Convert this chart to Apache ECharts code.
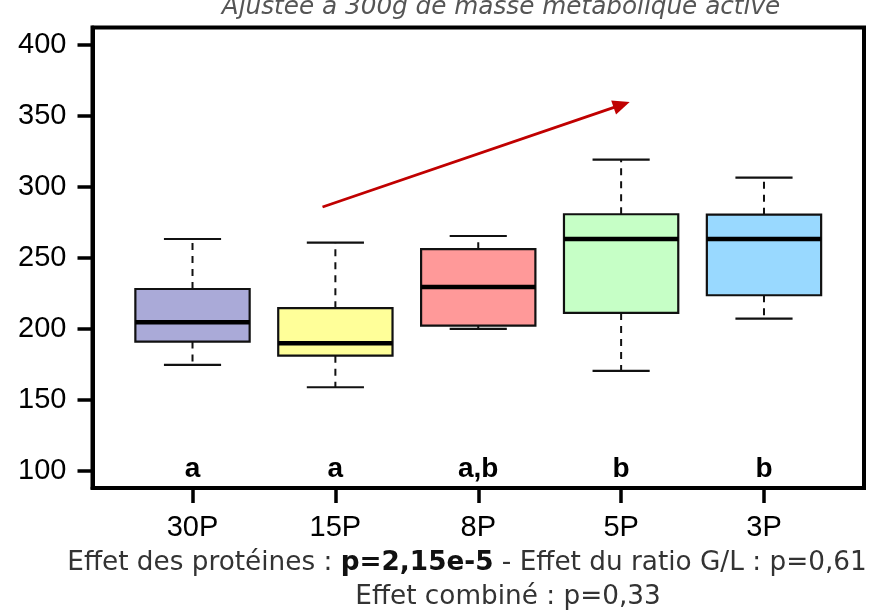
<!DOCTYPE html>
<html>
<head>
<meta charset="utf-8">
<script src="https://cdn.jsdelivr.net/npm/echarts@6/dist/echarts.min.js"></script>
<style>
html,body{margin:0;padding:0;background:#fff;}
#chart{width:871px;height:615px;}
</style>
</head>
<body>
<div id="chart"></div>
<script>
// ---- data ----
const categories = ['30P', '15P', '8P', '5P', '3P'];
const lowerWhisker = [174.6, 158.9, 199.9, 170.4, 207.2];
const q1 = [191.0, 181.1, 202.2, 211.2, 223.6];
const median = [204.7, 189.8, 229.5, 263.2, 263.2];
const q3 = [228.0, 214.5, 256.0, 280.6, 280.3];
const upperWhisker = [263.2, 260.6, 265.3, 319.0, 306.4];
const groupLetters = ['a', 'a', 'a,b', 'b', 'b'];
const yTicks = [100, 150, 200, 250, 300, 350, 400];
const trendArrow = [[1.91, 285.7], [4.06, 359.6]];
const titleText = 'Ajustée à 300g de masse métabolique active';
const footLine1 = ['Effet des protéines : ', 'p=2,15e-5', ' - Effet du ratio G/L : p=0,61'];
const footLine2 = 'Effet combiné : p=0,33';

// ---- styles ----
const boxColors = ['#AAAAD8', '#FFFF99', '#FF9999', '#C6FFC6', '#99D9FF'];
const LETTER_Y = 101;

const chart = echarts.init(document.getElementById('chart'), null, {renderer: 'canvas'});

const boxData = categories.map((c, i) => [i + 1, lowerWhisker[i], q1[i], median[i], q3[i], upperWhisker[i]]);

function renderBox(params, api) {
  const x = api.value(0);
  const pLow = api.coord([x, api.value(1)]);
  const pQ1 = api.coord([x, api.value(2)]);
  const pMed = api.coord([x, api.value(3)]);
  const pQ3 = api.coord([x, api.value(4)]);
  const pUp = api.coord([x, api.value(5)]);
  const halfW = api.size([0.8, 0])[0] / 2;
  const capHalf = api.size([0.4, 0])[0] / 2;
  const cx = pMed[0];
  const dashStyle = {stroke: '#111', lineWidth: 2, lineDash: [7, 6]};
  const capStyle = {stroke: '#111', lineWidth: 2.2};
  return {
    type: 'group',
    children: [
      {type: 'line', shape: {x1: cx, y1: pQ3[1], x2: cx, y2: pUp[1]}, style: dashStyle},
      {type: 'line', shape: {x1: cx, y1: pQ1[1], x2: cx, y2: pLow[1]}, style: dashStyle},
      {type: 'line', shape: {x1: cx - capHalf, y1: pUp[1], x2: cx + capHalf, y2: pUp[1]}, style: capStyle},
      {type: 'line', shape: {x1: cx - capHalf, y1: pLow[1], x2: cx + capHalf, y2: pLow[1]}, style: capStyle},
      {type: 'rect', shape: {x: cx - halfW, y: pQ3[1], width: halfW * 2, height: pQ1[1] - pQ3[1]},
        style: {fill: boxColors[params.dataIndex], stroke: '#111', lineWidth: 2.2}},
      {type: 'line', shape: {x1: cx - halfW, y1: pMed[1], x2: cx + halfW, y2: pMed[1]},
        style: {stroke: '#000', lineWidth: 4.5}}
    ]
  };
}

function renderLetter(params, api) {
  const p = api.coord([api.value(0), LETTER_Y]);
  return {
    type: 'text',
    x: p[0], y: p[1],
    style: {text: groupLetters[params.dataIndex], fill: '#000', font: 'bold 28px "Liberation Sans", Arial, sans-serif',
      align: 'center', verticalAlign: 'middle'}
  };
}

function renderArrow(params, api) {
  if (params.dataIndex !== 0) return null;
  const a = api.coord(trendArrow[0]);
  const b = api.coord(trendArrow[1]);
  const dx = b[0] - a[0], dy = b[1] - a[1];
  const len = Math.sqrt(dx * dx + dy * dy);
  const ux = dx / len, uy = dy / len;
  const headLen = 17, headHalf = 7.5;
  const bx = b[0] - ux * headLen, by = b[1] - uy * headLen;
  return {
    type: 'group',
    children: [
      {type: 'line', shape: {x1: a[0], y1: a[1], x2: bx + ux * 2, y2: by + uy * 2},
        style: {stroke: '#C00000', lineWidth: 2.8}},
      {type: 'polygon', shape: {points: [[b[0], b[1]], [bx - uy * headHalf, by + ux * headHalf], [bx + uy * headHalf, by - ux * headHalf]]},
        style: {fill: '#C00000'}}
    ]
  };
}

const option = {
  backgroundColor: '#fff',
  animation: false,
  grid: {left: 92.5, right: 7, top: 27.5, bottom: 127, show: true, borderColor: '#000', borderWidth: 4, backgroundColor: 'transparent'},
  xAxis: {
    type: 'value', min: 0.3, max: 5.7,
    axisLine: {show: true, lineStyle: {color: '#000', width: 4}},
    axisTick: {show: true, length: 15, customValues: [1, 2, 3, 4, 5], lineStyle: {color: '#000', width: 3.5}},
    axisLabel: {show: true, margin: 25, customValues: [1, 2, 3, 4, 5],
      formatter: v => categories[Math.round(v) - 1] || '',
      color: '#000', fontSize: 29, fontFamily: '"Liberation Sans", Arial, sans-serif'},
    splitLine: {show: false}
  },
  yAxis: {
    type: 'value', min: 88, max: 412,
    axisLine: {show: true, lineStyle: {color: '#000', width: 4}},
    axisTick: {show: true, length: 15, customValues: yTicks, lineStyle: {color: '#000', width: 3.5}},
    axisLabel: {show: true, margin: 26, customValues: yTicks,
      color: '#000', fontSize: 29, fontFamily: '"Liberation Sans", Arial, sans-serif'},
    splitLine: {show: false}
  },
  graphic: [
    {type: 'text', x: 501, y: 8, style: {text: titleText, fill: '#555',
      font: 'italic 24.7px "DejaVu Sans", sans-serif', align: 'center', verticalAlign: 'middle'}},
    {type: 'text', x: 467, y: 563, style: {
      text: '{n|' + footLine1[0] + '}{b|' + footLine1[1] + '}{n|' + footLine1[2] + '}',
      align: 'center', verticalAlign: 'middle',
      rich: {
        n: {fill: '#333', font: '26.3px "DejaVu Sans", sans-serif'},
        b: {fill: '#111', font: 'bold 26.3px "DejaVu Sans", sans-serif'}
      }}},
    {type: 'text', x: 508, y: 597, style: {text: footLine2, fill: '#333',
      font: '26.3px "DejaVu Sans", sans-serif', align: 'center', verticalAlign: 'middle'}}
  ],
  series: [
    {type: 'custom', coordinateSystem: 'cartesian2d', data: boxData,
      encode: {x: 0, y: [1, 2, 3, 4, 5]}, renderItem: renderBox, clip: false},
    {type: 'custom', coordinateSystem: 'cartesian2d', data: categories.map((c, i) => [i + 1]),
      encode: {x: 0}, renderItem: renderLetter},
    {type: 'custom', coordinateSystem: 'cartesian2d', data: trendArrow,
      encode: {x: 0, y: 1}, renderItem: renderArrow}
  ]
};
chart.setOption(option);
</script>
</body>
</html>
